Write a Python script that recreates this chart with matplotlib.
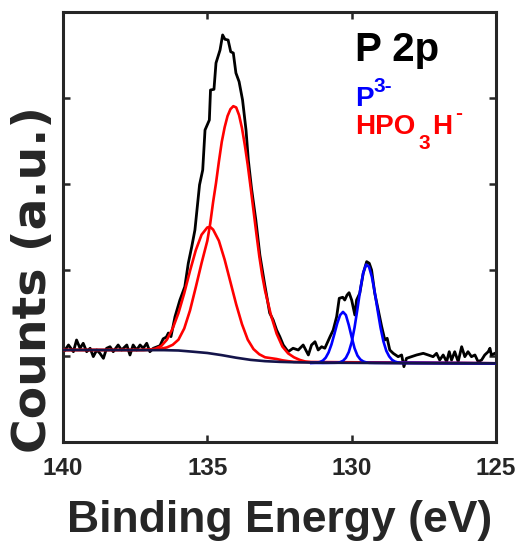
import matplotlib
matplotlib.use("Agg")
import matplotlib.pyplot as plt

# ── data ──────────────────────────────────────────────────────────────────────

# raw spectrum
black_ev = [139.93, 139.81, 139.64, 139.53, 139.41, 139.30, 139.18, 139.06, 138.95,
            138.83, 138.72, 138.60, 138.49, 138.37, 138.26, 138.09, 137.97, 137.79,
            137.68, 137.57, 137.45, 137.33, 137.22, 137.10, 136.99, 136.87, 136.64,
            136.53, 136.42, 136.35, 136.26, 136.12, 135.95, 135.78, 135.66, 135.54,
            135.43, 135.27, 135.16, 135.08, 134.93, 134.89, 134.77, 134.70, 134.56,
            134.47, 134.39, 134.28, 134.19, 134.10, 134.01, 133.90, 133.78, 133.66,
            133.58, 133.47, 133.32, 133.18, 133.01, 132.84, 132.72, 132.60, 132.49,
            132.37, 132.20, 132.03, 131.85, 131.68, 131.50, 131.39, 131.27, 131.16,
            131.04, 130.93, 130.75, 130.64, 130.52, 130.43, 130.31, 130.24, 130.16,
            130.09, 130.00, 129.89, 129.83, 129.72, 129.60, 129.48, 129.39, 129.31,
            129.20, 129.08, 128.96, 128.85, 128.77, 128.68, 128.56, 128.39, 128.27,
            128.19, 128.10, 127.93, 127.75, 127.52, 127.35, 127.18, 127.06, 126.95,
            126.83, 126.71, 126.62, 126.54, 126.43, 126.31, 126.19, 126.08, 125.97,
            125.85, 125.73, 125.62, 125.50, 125.39, 125.27, 125.21, 125.16, 125.04]
black_counts = [1070, 1128, 1050, 1186, 1090, 1148, 1050, 1090, 993,
                1070, 1031, 973, 1090, 1108, 1050, 1128, 1070, 1128,
                1012, 1128, 1070, 1128, 1090, 1148, 1050, 1090, 1120,
                1200, 1220, 1267, 1225, 1457, 1651, 1806, 2078, 2271,
                2465, 2990, 3163, 3628, 3744, 4093, 4101, 4407, 4558,
                4733, 4683, 4674, 4538, 4523, 4291, 4190, 3977, 3628,
                3279, 2950, 2581, 2174, 1826, 1500, 1419, 1302, 1225,
                1128, 1050, 1090, 1070, 1128, 1012, 1128, 1166, 1070,
                1108, 1090, 1224, 1302, 1457, 1671, 1683, 1651, 1709,
                1736, 1651, 1477, 1651, 1729, 1962, 2097, 2078, 2000,
                1729, 1535, 1341, 1186, 1206, 1070, 1031, 992, 1012,
                876, 973, 992, 1012, 1031, 1012, 992, 1031, 953,
                1012, 934, 1050, 953, 1050, 934, 1108, 992, 1050,
                992, 1012, 934, 953, 1012, 1050, 1090, 1012, 1031]

# background (shirley-like step)
bg_ev = [140.0, 136.5, 136.0, 135.5, 135.0, 134.5, 134.0, 133.5, 133.0,
         132.5, 132.0, 131.0, 128.0, 125.0]
bg_counts = [1070, 1068, 1064, 1050, 1035, 1010, 980, 955, 940,
             932, 927, 922, 917, 915]

# HPO3H- component at 134.1 eV
red1_ev = [140.0, 137.4, 137.0, 136.8, 136.6, 136.4, 136.2, 136.0, 135.8, 135.6,
           135.4, 135.2, 135.0, 134.9, 134.8, 134.7, 134.6, 134.5, 134.4, 134.3,
           134.2, 134.1, 134.0, 133.9, 133.8, 133.7, 133.6, 133.5, 133.4, 133.3,
           133.2, 133.1, 133.0, 132.8, 132.6, 132.4, 132.2, 132.0, 131.8, 131.6,
           131.4, 125.0]
red1_counts = [1070, 1070, 1072, 1075, 1085, 1100, 1130, 1190, 1320, 1530,
               1800, 2080, 2340, 2540, 2790, 3010, 3260, 3490, 3660, 3790,
               3870, 3905, 3890, 3800, 3650, 3450, 3220, 2960, 2690, 2420,
               2160, 1940, 1760, 1480, 1260, 1110, 1030, 985, 955, 935,
               926, 915]

# HPO3H- component at 134.9 eV
red2_ev = [140.0, 137.2, 137.0, 136.8, 136.6, 136.4, 136.2, 136.0, 135.8, 135.6,
           135.4, 135.2, 135.0, 134.9, 134.8, 134.6, 134.4, 134.2, 134.0, 133.8,
           133.6, 133.4, 133.2, 133.0, 132.8, 132.6, 132.4, 132.2, 132.0, 125.0]
red2_counts = [1070, 1070, 1075, 1085, 1115, 1190, 1320, 1500, 1730, 1990,
               2230, 2410, 2495, 2500, 2470, 2340, 2120, 1860, 1600, 1370,
               1190, 1080, 1020, 985, 975, 965, 950, 940, 932, 915]

# P3- component at 130.3 eV
blue1_ev = [131.4, 131.2, 131.1, 131.0, 130.9, 130.8, 130.7, 130.6, 130.5, 130.4,
            130.3, 130.2, 130.1, 130.0, 129.9, 129.8, 129.7, 129.6, 129.5, 129.4,
            129.2, 125.0]
blue1_counts = [920, 923, 930, 946, 980, 1041, 1134, 1254, 1380, 1476,
                1513, 1476, 1360, 1220, 1090, 1005, 960, 937, 926, 921,
                920, 915]

# P3- component at 129.5 eV
blue2_ev = [131.4, 131.0, 130.8, 130.6, 130.5, 130.4, 130.3, 130.2, 130.1, 130.0,
            129.9, 129.8, 129.7, 129.6, 129.5, 129.4, 129.3, 129.2, 129.1, 129.0,
            128.9, 128.8, 128.7, 128.6, 128.5, 128.4, 128.3, 125.0]
blue2_counts = [920, 919, 920, 921, 922, 928, 944, 979, 1046, 1160,
                1331, 1547, 1776, 1966, 2063, 2038, 1920, 1740, 1530, 1330,
                1170, 1060, 995, 955, 935, 925, 920, 915]

XTICKS = [140, 135, 130, 125]
XTICK_LABELS = ["140", "135", "130", "125"]
YTICKS = [0, 1000, 2000, 3000, 4000, 5000]

# ── style ─────────────────────────────────────────────────────────────────────

DARK = "#262626"
RED = "#ff0000"
BLUE = "#0000ff"
W, H = 521, 544
plt.rcParams["font.family"] = ["Liberation Sans", "DejaVu Sans"]
plt.rcParams["font.weight"] = "bold"

# ── plot ──────────────────────────────────────────────────────────────────────

fig = plt.figure(figsize=(W / 100, H / 100), dpi=100)
ax = fig.add_axes([63 / W, 102 / H, 433 / W, 430 / H])

ax.plot(black_ev, black_counts, color="black", lw=2.0, zorder=2)
ax.plot(red2_ev, red2_counts, color=RED, lw=1.9, zorder=3)
ax.plot(red1_ev, red1_counts, color=RED, lw=1.9, zorder=3)
ax.plot(blue1_ev, blue1_counts, color=BLUE, lw=1.9, zorder=3)
ax.plot(blue2_ev, blue2_counts, color=BLUE, lw=1.9, zorder=3)
ax.plot(bg_ev, bg_counts, color="#14144a", lw=1.9, zorder=4)

ax.set_xlim(140, 125)
ax.set_ylim(0, 5000)
ax.set_xticks(XTICKS)
ax.set_xticklabels(XTICK_LABELS)
ax.set_yticks(YTICKS)

for s in ax.spines.values():
    s.set_linewidth(2.2)
    s.set_color(DARK)
ax.tick_params(direction="in", length=5, width=1.8, top=True, right=True,
               colors=DARK, labelsize=17.5, pad=11, labelleft=False)

# axis labels
fig.text(280 / W, 12 / H, "Binding Energy (eV)", fontsize=32,
         color=DARK, ha="center", va="baseline")
fig.text(46 / W, (H - 280) / H, "Counts (a.u.)", fontsize=34,
         family="DejaVu Sans", color=DARK, rotation=90,
         rotation_mode="anchor", ha="center", va="baseline")


def label(x, y, s, size, color):
    # x, y in pixels from the top-left corner, y is the baseline
    fig.text(x / W, (H - y) / H, s, fontsize=size, color=color,
             ha="left", va="baseline")


label(355, 61, "P 2p", 29, "black")

label(355, 106, "P", 20, BLUE)
label(373.5, 92, "3-", 15, BLUE)

label(355, 134, "HPO", 20, RED)
label(418.5, 149, "3", 15, RED)
label(432.5, 134, "H", 20, RED)
label(455, 119, "-", 15, RED)

fig.savefig("out.png", dpi=100)
